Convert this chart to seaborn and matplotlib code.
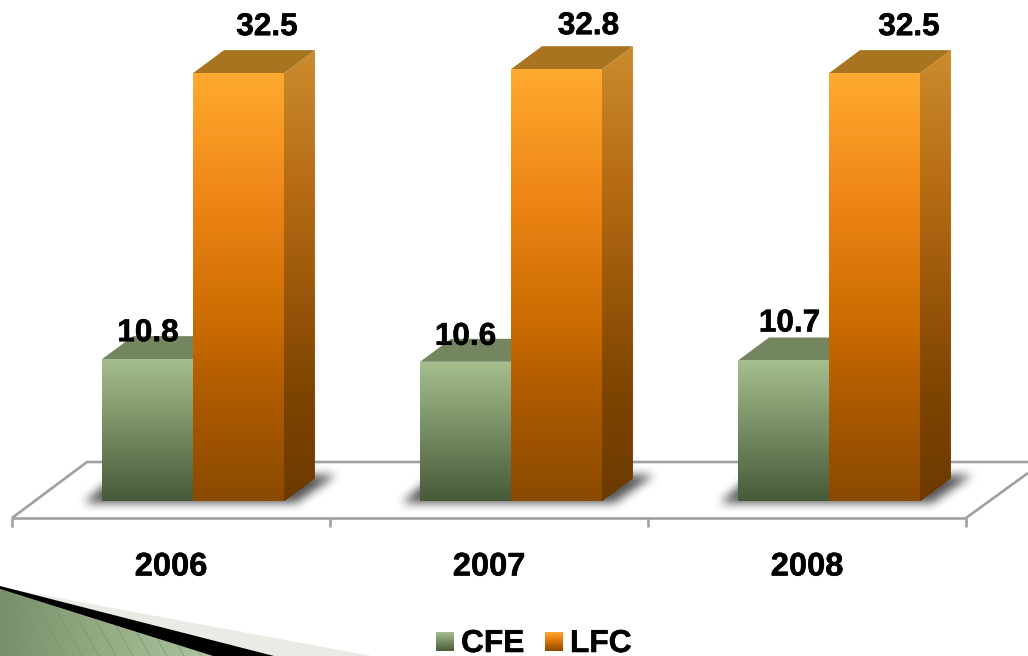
import numpy as np
import pandas as pd
import matplotlib
matplotlib.use('Agg')
import matplotlib.pyplot as plt
import matplotlib.patheffects as pe
from matplotlib.colors import LinearSegmentedColormap
from matplotlib.patches import Polygon
from matplotlib.path import Path
import seaborn as sns

years = ['2006', '2007', '2008']
cfe = [10.8, 10.6, 10.7]
lfc = [32.5, 32.8, 32.5]

# gradients: front, side, top of each series
front = {'CFE': [(0, '#a6bf8e'), (1, '#475a39')],
         'LFC': [(0, '#ffaa30'), (0.3, '#ee8515'), (0.6, '#c96a00'), (0.76, '#ad5a00'), (1, '#8a4a00')]}
side = {'CFE': [(0, '#7c8f68'), (1, '#3a4a2e')],
        'LFC': [(0, '#cb8c2e'), (0.3, '#b76c14'), (0.76, '#7e4400'), (1, '#6c3a00')]}
top = {'CFE': '#748660', 'LFC': '#a87420'}

sns.set_theme(style='white')
plt.rcParams['font.family'] = ['Liberation Sans', 'DejaVu Sans']

W, H = 1028, 656
BASE_Y = 501.5      # pixel row of value 0
ZERO_X = 193        # pixel column of the first category
PX_CAT = 318        # pixels per category
PX_VAL = 13.18      # pixels per unit of value
DEPTH_X, DEPTH_Y = 31, 23
BOLD = [pe.withStroke(linewidth=0.4, foreground='black')]


def xd(p):
    return (p - ZERO_X) / PX_CAT


def yd(p):
    return (BASE_Y - p) / PX_VAL


def px(points):
    return [(xd(a), yd(b)) for a, b in points]


df = pd.DataFrame({
    'year': years * 2,
    'series': ['CFE'] * 3 + ['LFC'] * 3,
    'value': cfe + lfc,
})

fig = plt.figure(figsize=(W / 100, H / 100), dpi=100, facecolor='white')
ax = fig.add_axes([0, 0, 1, 1])
sns.barplot(data=df, x='year', y='value', hue='series', hue_order=['CFE', 'LFC'],
            width=0.572, gap=0, palette={'CFE': '#768a62', 'LFC': '#d97a0a'},
            legend=False, errorbar=None, ax=ax, zorder=0)
ax.axis('off')


def shade(verts, colors, z, horizontal=False):
    # gradient clipped to a polygon, in data coordinates
    verts = np.array(verts)
    cmap = LinearSegmentedColormap.from_list('g', colors)
    ramp = np.linspace(0, 1, 256).reshape(1, -1) if horizontal else np.linspace(0, 1, 256).reshape(-1, 1)
    clip = Polygon(verts, closed=True, fc='none', ec='none', zorder=z)
    ax.add_patch(clip)
    im = ax.imshow(ramp, cmap=cmap, aspect='auto', interpolation='bilinear', origin='upper', zorder=z,
                   extent=(verts[:, 0].min(), verts[:, 0].max(), verts[:, 1].min(), verts[:, 1].max()))
    im.set_clip_path(clip)


def shadow(points, z=2, blur=11, alpha=0.85):
    # soft floor shadow: polygon mask smoothed with a box kernel
    xs, ys = np.meshgrid(np.arange(W), np.arange(H))
    mask = Path(points).contains_points(np.c_[xs.ravel() + 0.5, ys.ravel() + 0.5]).reshape(H, W).astype(float)
    k = np.ones(blur) / blur
    for _ in range(2):
        mask = np.apply_along_axis(lambda r: np.convolve(r, k, mode='same'), 1, mask)
        mask = np.apply_along_axis(lambda c: np.convolve(c, k, mode='same'), 0, mask)
    rgba = np.zeros((H, W, 4))
    rgba[..., :3] = 0.22
    rgba[..., 3] = mask * alpha
    ax.imshow(rgba, extent=(xd(0), xd(W), yd(H), yd(0)), aspect='auto', zorder=z, origin='upper')


# floor
floor = dict(color='#a0a0a0', lw=1.9, zorder=1, solid_capstyle='butt')
ax.plot(*zip(*px([(12, 518), (966, 518)])), **floor)
ax.plot(*zip(*px([(12, 518), (87, 462), (W, 462)])), **floor)
ax.plot(*zip(*px([(966, 518), (W, 473)])), **floor)
for i in range(len(years) + 1):
    ax.plot(*zip(*px([(12 + PX_CAT * i, 518), (12 + PX_CAT * i, 527)])), **floor)

# shadows
for i in range(len(years)):
    s = PX_CAT * i
    shadow([(84 + s, 503), (296 + s, 503), (336 + s, 475), (130 + s, 475), (108 + s, 482)])

# bars: the seaborn rectangles give the geometry, the faces are painted over them
dep_x, dep_y = DEPTH_X / PX_CAT, DEPTH_Y / PX_VAL
for name, cont, z in zip(['CFE', 'LFC'], ax.containers, [3, 4]):
    for bar in cont:
        x0, x1 = bar.get_x(), bar.get_x() + bar.get_width()
        h = bar.get_height()
        bar.set_visible(False)
        shade([(x1, 0), (x1 + dep_x, dep_y), (x1 + dep_x, h + dep_y), (x1, h)], side[name], z)
        ax.add_patch(Polygon([(x0, h), (x1, h), (x1 + dep_x, h + dep_y), (x0 + dep_x, h + dep_y)],
                             closed=True, fc=top[name], ec='none', zorder=z))
        shade([(x0, 0), (x1, 0), (x1, h), (x0, h)], front[name], z + 0.1)

# value labels, nudged the way the original chart has them
label_style = dict(ha='center', va='center', fontsize=22.7, fontweight='bold', color='black', zorder=6,
                   path_effects=BOLD)
cfe_nudge = [(0.5, 26), (0, 25), (6, 37)]
lfc_nudge = [(28.5, 46), (32, 43), (34.5, 46)]
for cont, vals, nudge in zip(ax.containers, [cfe, lfc], [cfe_nudge, lfc_nudge]):
    for bar, v, (nx, ny) in zip(cont, vals, nudge):
        ax.text(bar.get_x() + bar.get_width() / 2 + nx / PX_CAT, v + ny / PX_VAL, f'{v:.1f}', **label_style)

# category labels sit on the front edge of the floor
for i, y in enumerate(years):
    ax.text(i - 22 / PX_CAT, yd(567), y, ha='center', va='center', fontsize=23.5, fontweight='bold',
            color='black', zorder=6, path_effects=BOLD)

# legend
legend_items = [('CFE', 436, 461), ('LFC', 545, 570)]
for name, sx, tx in legend_items:
    shade(px([(sx, 632), (sx + 18, 632), (sx + 18, 651), (sx, 651)]), front[name], 6)
    ax.text(xd(tx), yd(652), name, ha='left', va='baseline', fontsize=22.8, fontweight='bold', color='black',
            zorder=6, path_effects=BOLD)

# slide corner decoration
ax.add_patch(Polygon(px([(10, 589), (372, 656), (10, 656)]), closed=True, fc='#e9ece4', ec='none', zorder=1))
shade(px([(0, 589), (213, 656), (0, 656)]), ['#76906a', '#94ad84', '#aec5a0'], 1.2, horizontal=True)
stripes = Polygon(px([(0, 589), (213, 656), (0, 656)]), closed=True, fc='none', ec='none', zorder=1.3)
ax.add_patch(stripes)
for s in range(-60, 230, 17):
    line, = ax.plot(*zip(*px([(s, 585), (s + 40, 656)])), color='#7a9268', lw=0.8, alpha=0.55, zorder=1.3)
    line.set_clip_path(stripes)
ax.add_patch(Polygon(px([(0, 586), (274, 656), (213, 656), (0, 589)]), closed=True, fc='black', ec='none', zorder=1.5))

ax.set_xlim(xd(0), xd(W))
ax.set_ylim(yd(H), yd(0))
fig.savefig('out.png', dpi=100)
